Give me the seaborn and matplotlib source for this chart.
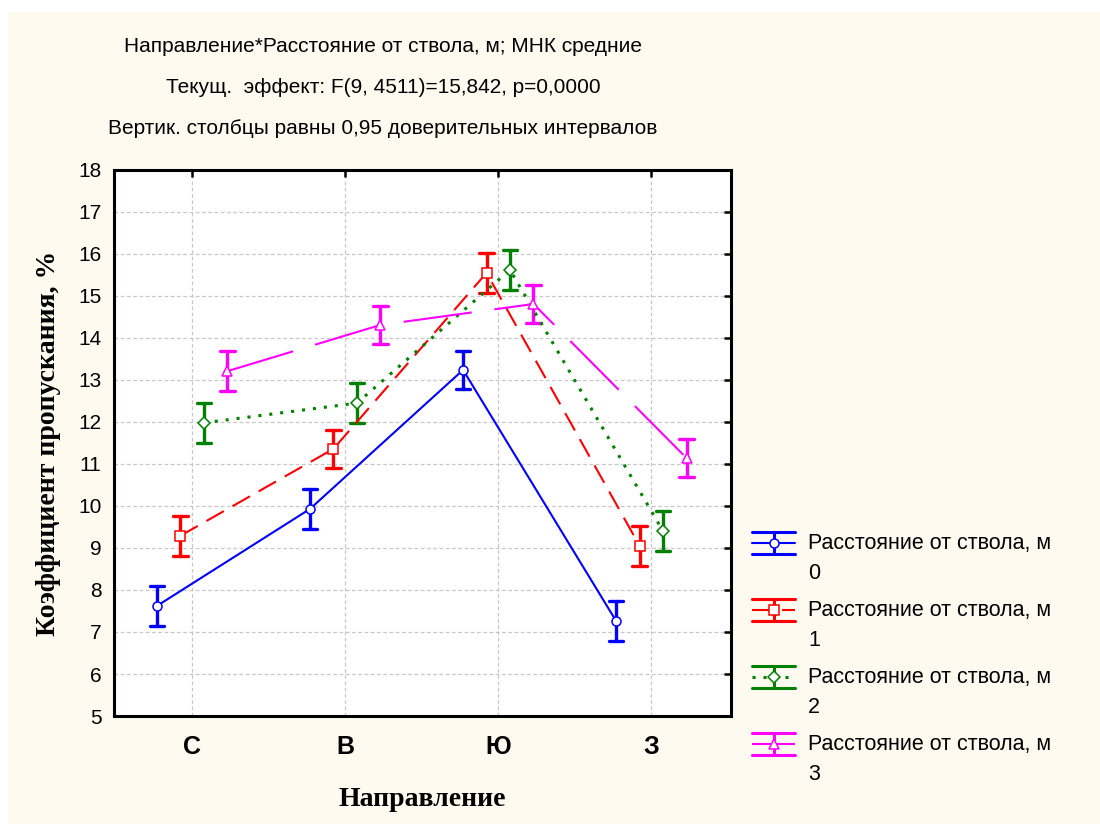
import numpy as np
import pandas as pd
import matplotlib
matplotlib.use("Agg")
import matplotlib.pyplot as plt
import seaborn as sns
from matplotlib.lines import Line2D
from matplotlib.patches import Rectangle
from matplotlib.legend_handler import HandlerBase

# ---------------- data ----------------
directions = ["С", "В", "Ю", "З"]
distances = ["0", "1", "2", "3"]
mean_d0 = [7.62, 9.93, 13.24, 7.26]
mean_d1 = [9.29, 11.36, 15.55, 9.05]
mean_d2 = [11.98, 12.45, 15.62, 9.40]
mean_d3 = [13.21, 14.31, 14.81, 11.14]
ci_d0 = [0.47, 0.47, 0.46, 0.47]
ci_d1 = [0.47, 0.46, 0.47, 0.47]
ci_d2 = [0.47, 0.47, 0.47, 0.47]
ci_d3 = [0.47, 0.46, 0.46, 0.46]

title_lines = [
    "Направление*Расстояние от ствола, м; МНК средние",
    "Текущ.  эффект: F(9, 4511)=15,842, p=0,0000",
    "Вертик. столбцы равны 0,95 доверительных интервалов",
]
y_label = "Коэффициент пропускания, %"
x_label = "Направление"
legend_prefix = "Расстояние от ствола, м"

means = [mean_d0, mean_d1, mean_d2, mean_d3]
cis = [ci_d0, ci_d1, ci_d2, ci_d3]

# long table: each point given as (mean - ci, mean, mean + ci); 100% interval -> CI
rows = []
for dist, m_list, c_list in zip(distances, means, cis):
    label = f"{legend_prefix}\n{dist}"
    for d, m, c in zip(directions, m_list, c_list):
        for v in (m - c, m, m + c):
            rows.append({"dir": d, "val": v, "dist": label})
df = pd.DataFrame(rows)
hue_order = [f"{legend_prefix}\n{d}" for d in distances]

colors = ["#0000FF", "#FF0000", "#008000", "#FF00FF"]
markers = ["o", "s", "D", "^"]
linestyles = ["-", (0, (9.6, 4.8)), (0, (1, 2.6)), (0, (33, 11))]
line_widths = [1.5, 1.5, 2.2, 1.5]

# ---------------- style ----------------
sns.set_style("white")
plt.rcParams["font.family"] = ["Liberation Sans", "DejaVu Sans"]
plt.rcParams["text.color"] = "black"
plt.rcParams["axes.labelcolor"] = "black"
plt.rcParams["xtick.color"] = "black"
plt.rcParams["ytick.color"] = "black"

fig = plt.figure(figsize=(11, 8.24), dpi=100, facecolor="white")
cream = "#FFFAF0"
fig.patches.append(Rectangle((8 / 1100, 0), 1, (824 - 12) / 824,
                             transform=fig.transFigure, facecolor=cream,
                             edgecolor="none", zorder=-10))

ax = fig.add_axes([114 / 1100, 1 - 716 / 824, (731 - 114) / 1100, (716 - 170) / 824])
ax.set_facecolor("white")

sns.pointplot(
    data=df, x="dir", y="val", hue="dist", order=directions, hue_order=hue_order,
    palette=colors, markers=markers, linestyles=linestyles,
    estimator="mean", errorbar=("pi", 100), dodge=0.46, capsize=0.095,
    err_kws={"linewidth": 2.4, "linestyle": "-"},
    markersize=6.5, markeredgewidth=1.1, markerfacecolor="white",
    linewidth=1.5, legend=False, ax=ax,
)

# refine per-series line widths and layering (markers above error bars)
point_lines = [l for l in ax.lines if l.get_marker() not in (None, "None", "")]
for l, lw in zip(point_lines, line_widths):
    l.set_linewidth(lw)
    l.set_zorder(5)
    l.set_markeredgewidth(1.1)

ax.set_xlim(-0.51, 3.52)
ax.set_ylim(5, 18)
ax.set_yticks(np.arange(5, 19, 1))
ax.grid(True, which="major", linestyle=(0, (3, 2)), color="#C8C8C8", linewidth=0.9, zorder=0)
ax.set_axisbelow(True)
for s in ax.spines.values():
    s.set_visible(True)
    s.set_linewidth(2.2)
    s.set_color("black")
ax.tick_params(axis="both", direction="in", length=5, width=1.8, top=True, right=True,
               colors="black")
ax.tick_params(axis="y", labelsize=15, pad=9)
ax.tick_params(axis="x", labelsize=18, pad=14)
for t in ax.get_xticklabels():
    t.set_fontweight("bold")

ax.set_xlabel(x_label, fontsize=20, fontweight="bold", family="Liberation Serif",
              labelpad=20, color="black")
ax.set_ylabel(y_label, fontsize=20, fontweight="bold", family="Liberation Serif",
              labelpad=12, color="black")

# title block
for i, line in enumerate(title_lines):
    fig.text(383 / 1100, 1 - (46 + i * 41.5) / 824, line, ha="center", va="center",
             fontsize=15, color="black")

# ---------------- legend ----------------
class HandlerErrLine(HandlerBase):
    def __init__(self, shift_frac=0.0, **kw):
        super().__init__(**kw)
        self.shift_frac = shift_frac

    def create_artists(self, legend, orig_handle, xdescent, ydescent, width, height,
                       fontsize, trans):
        sh = self.shift_frac * fontsize
        x0, x1 = -xdescent, -xdescent + width
        y0, y1 = -ydescent + sh, -ydescent + height + sh
        xm, ym = (x0 + x1) / 2, (y0 + y1) / 2
        c = orig_handle.get_color()
        top = Line2D([x0, x1], [y1, y1], color=c, lw=2.2, transform=trans)
        bot = Line2D([x0, x1], [y0, y0], color=c, lw=2.2, transform=trans)
        vert = Line2D([xm, xm], [y0, y1], color=c, lw=2.2, transform=trans)
        mid = Line2D([x0, x1], [ym, ym], transform=trans)
        mid.update_from(orig_handle)
        mid.set_marker("None")
        mk = Line2D([xm], [ym], linestyle="None", marker=orig_handle.get_marker(),
                    markersize=6.5, markerfacecolor="white", markeredgecolor=c,
                    markeredgewidth=1.1, transform=trans)
        return [top, bot, vert, mid, mk]

handles = []
for c, m, ls, lw in zip(colors, markers, linestyles, line_widths):
    handles.append(Line2D([], [], color=c, marker=m, linestyle=ls, linewidth=lw))
handler = HandlerErrLine(shift_frac=0.75)
leg = fig.legend(handles, hue_order, loc="upper left",
                 bbox_to_anchor=(752 / 1100, 1 - 533 / 824),
                 frameon=False, fontsize=15.5, handlelength=2.0, handleheight=1.2,
                 handletextpad=0.6, labelspacing=0.75, borderaxespad=0, borderpad=0,
                 handler_map={h: handler for h in handles})
for t in leg.get_texts():
    t.set_linespacing(1.55)
    t.set_color("black")

fig.savefig("out.png", dpi=100, facecolor=fig.get_facecolor())
